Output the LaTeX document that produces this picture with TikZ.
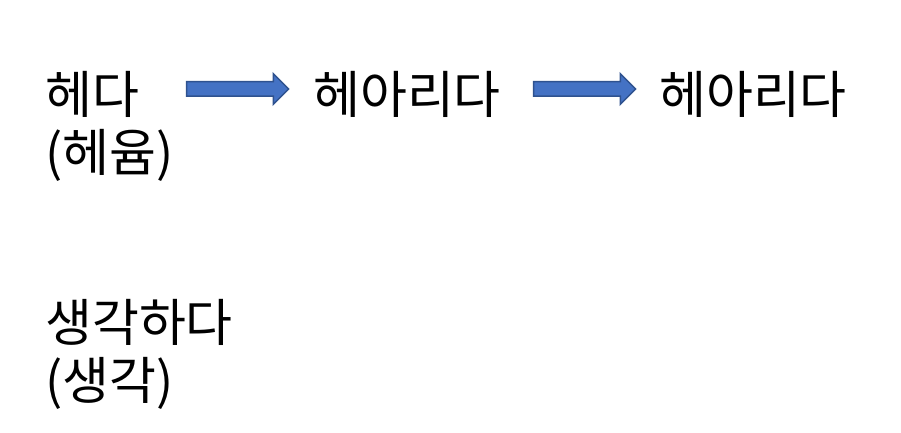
\documentclass[tikz,border=0pt]{standalone}
\usepackage{fontspec}
\setmainfont{Noto Sans CJK KR}
\usetikzlibrary{shapes.arrows}
\definecolor{arrowfill}{HTML}{4472C4}
\definecolor{arrowline}{HTML}{2F528F}
\tikzset{
	word/.style={inner sep=0pt,anchor=north west,align=left,font=\fontsize{51}{58}\selectfont},
	blockarrow/.style={single arrow,draw=arrowline,fill=arrowfill,line width=1.5pt,
		inner xsep=0pt,inner ysep=6.5pt,single arrow head extend=8pt,minimum height=102pt}
}
\begin{document}
\begin{tikzpicture}[x=1pt,y=-1pt]
	\useasboundingbox (0,0) rectangle (901,433);
	\node[word] (heda) at (45,71) {헤다\\(헤윰)};
	\node[word] (hearida) at (313,71) {헤아리다};
	\node[word] (hearidatwo) at (659,71) {헤아리다};
	\node[word] (saenggak) at (45,299) {생각하다\\(생각)};
	\node[blockarrow] (arrowone) at (234,89) {};
	\node[blockarrow] (arrowtwo) at (581,89) {};
\end{tikzpicture}
\end{document}
